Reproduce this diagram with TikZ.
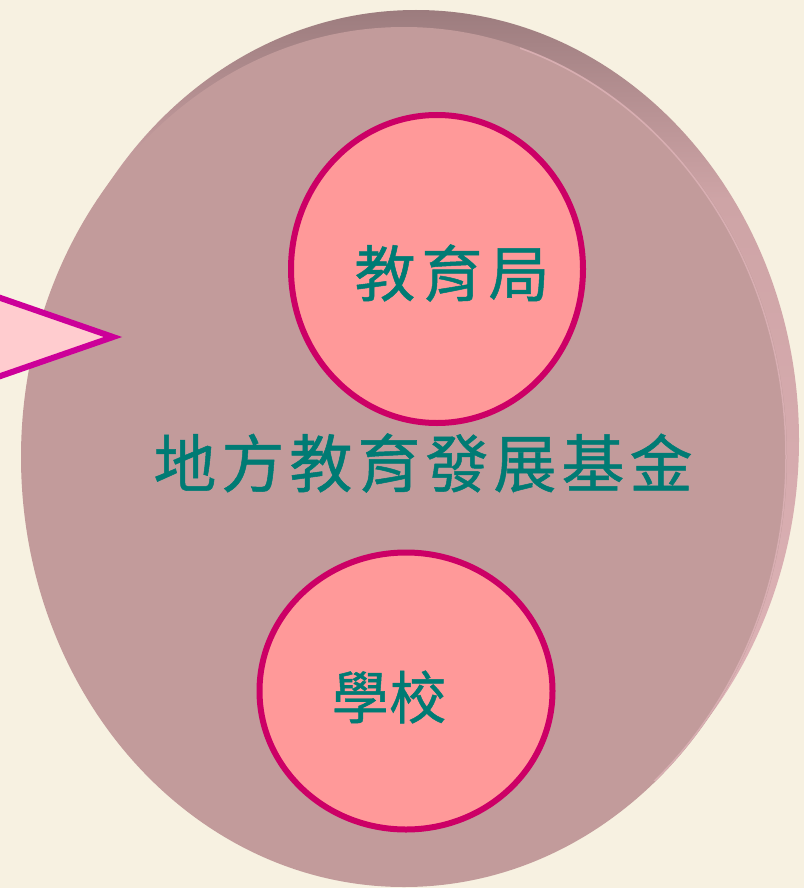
\documentclass[tikz,border=0pt]{standalone}
\usepackage{fontspec}
\newfontfamily\cjk[FakeBold=0.8]{Noto Sans CJK TC}
\usetikzlibrary{shapes.geometric,shadings}
\definecolor{bg}{HTML}{F7F1E1}
\definecolor{face}{HTML}{C29B9B}
\definecolor{ballfill}{HTML}{FF9999}
\definecolor{balledge}{HTML}{CC0066}
\definecolor{arrowfill}{HTML}{FFCCCF}
\definecolor{arrowedge}{HTML}{CC0099}
\definecolor{teal}{HTML}{007B74}
\definecolor{rimline}{HTML}{D8AEB2}
\pgfdeclareverticalshading{rim}{100bp}{%
  color(0bp)=(rgb,255:red,226;green,184;blue,188);
  color(25bp)=(rgb,255:red,226;green,184;blue,188);
  color(49bp)=(rgb,255:red,214;green,171;blue,174);
  color(64bp)=(rgb,255:red,206;green,164;blue,166);
  color(71bp)=(rgb,255:red,176;green,140;blue,142);
  color(75bp)=(rgb,255:red,156;green,124;blue,126);
  color(100bp)=(rgb,255:red,156;green,124;blue,126)}
\tikzset{
  ball/.style={ellipse, draw=balledge, fill=ballfill, line width=6pt, inner sep=0pt},
  label cjk/.style={text=teal, inner sep=0pt}
}
\begin{document}
\begin{tikzpicture}[x=1pt,y=-1pt]
\fill[bg] (0,0) rectangle (804,888);
\useasboundingbox (0,0) rectangle (804,888);
\begin{scope}
\clip (0,0) rectangle (804,888);
% rim (back side of the disc)
\shade[shading=rim] (416,440) ellipse [x radius=383, y radius=430];
% front face
\node[ellipse, fill=face, minimum width=766pt, minimum height=860pt, inner sep=0pt] (disc) at (404,457) {};
\begin{scope}
\clip (520,0) rectangle (804,780);
\draw[rimline, line width=1.5pt] (404,457) ellipse [x radius=382, y radius=429];
\end{scope}
% pointer triangle
\coordinate (tip) at (113,337);
\coordinate (ta) at (-60,277);
\coordinate (tb) at (-60,397);
\draw[fill=arrowfill, draw=arrowedge, line width=6pt, line join=miter] (ta) -- (tip) -- (tb) -- cycle;
\end{scope}
% inner circles
\node[ball, minimum width=292pt, minimum height=308pt] (bureau) at (437,269) {};
\node[ball, minimum width=293pt, minimum height=277pt] (school) at (406,691) {};
% texts
\node[label cjk, font={\cjk\fontsize{61}{64}\selectfont\addfontfeatures{LetterSpace=10}}] (tbureau) at (452,273) {教育局};
\node[label cjk, font={\cjk\fontsize{57}{60}\selectfont\addfontfeatures{LetterSpace=1}}] (tschool) at (389,697) {學校};
\node[label cjk, font={\cjk\fontsize{63}{66}\selectfont\addfontfeatures{LetterSpace=8}}] (tfund) at (423,463) {地方教育發展基金};
\end{tikzpicture}
\end{document}
